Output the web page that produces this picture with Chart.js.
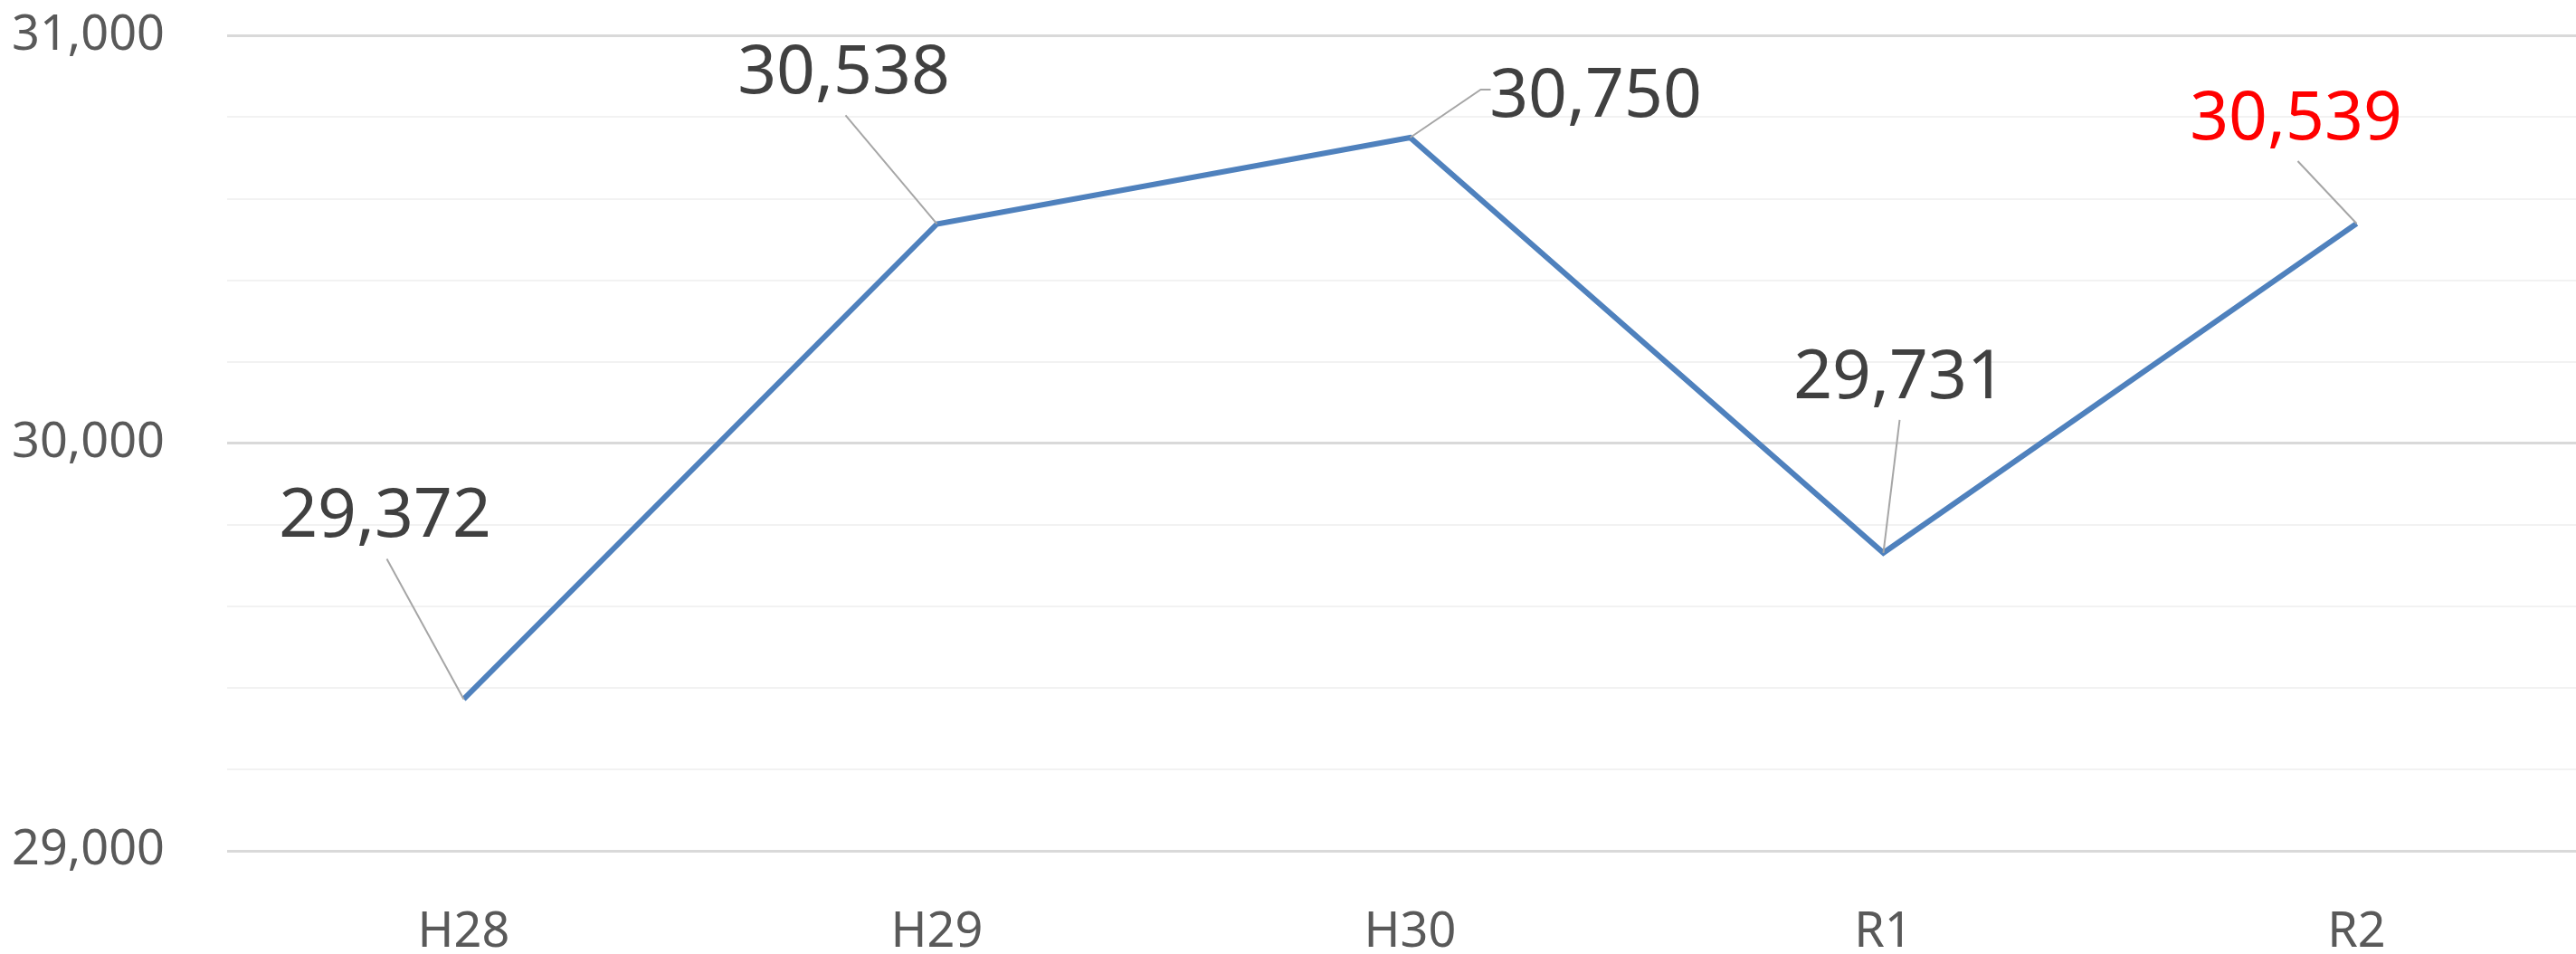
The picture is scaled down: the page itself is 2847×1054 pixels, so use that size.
<!DOCTYPE html>
<html>
<head>
<meta charset="utf-8">
<script src="https://cdn.jsdelivr.net/npm/chart.js@4/dist/chart.umd.min.js"></script>
<style>
html,body{margin:0;padding:0;background:#fff;overflow:hidden;}
#wrap{width:2847px;height:1054px;position:relative;overflow:hidden;}
#c{position:absolute;left:0;top:-62px;}
</style>
</head>
<body>
<div id="wrap"><canvas id="c" width="2866" height="1116"></canvas></div>
<script>
const categories = ['H28', 'H29', 'H30', 'R1', 'R2'];
const values = [29372, 30538, 30750, 29731, 30539];
const yMin = 29000;
const yMax = 31000;
const yStep = 200;
const yLabelStep = 1000;

const FONT = '"Noto Sans", "Open Sans", sans-serif';

const labelPlugin = {
  id: 'leaderLabels',
  afterDatasetsDraw(chart, args, opts) {
    const ctx = chart.ctx;
    const meta = chart.getDatasetMeta(0);
    ctx.save();
    meta.data.forEach((pt, i) => {
      const o = opts.items[i];
      const x = pt.x, y = pt.y;
      ctx.strokeStyle = '#a6a6a6';
      ctx.lineWidth = 2;
      ctx.beginPath();
      ctx.moveTo(x, y);
      o.leader.forEach(p => ctx.lineTo(x + p[0], y + p[1]));
      ctx.stroke();
      const size = opts.size;
      ctx.font = size + 'px ' + FONT;
      ctx.fillStyle = o.color;
      ctx.textAlign = 'center';
      ctx.textBaseline = 'alphabetic';
      const txt = values[i].toLocaleString('en-US');
      ctx.fillText(txt, x + o.dx, y + o.dy + size * 0.357);
    });
    ctx.restore();
  }
};

new Chart(document.getElementById('c'), {
  type: 'line',
  data: {
    labels: categories,
    datasets: [{
      data: values,
      borderColor: '#4f81bd',
      borderWidth: 6,
      pointRadius: 0,
      pointHoverRadius: 0,
      tension: 0,
      fill: false
    }]
  },
  options: {
    responsive: false,
    animation: false,
    events: [],
    layout: { padding: { top: 0, right: 0, bottom: 0, left: 0 } },
    plugins: {
      legend: { display: false },
      tooltip: { enabled: false },
      leaderLabels: {
        size: 75,
        items: [
          { dx: -87, dy: -206, leader: [[-85, -155]], color: '#404040' },
          { dx: -103, dy: -171, leader: [[-101, -120]], color: '#404040' },
          { dx: 205, dy: -50, leader: [[78, -53], [89, -53]], color: '#404040' },
          { dx: 18, dy: -198, leader: [[18, -147]], color: '#404040' },
          { dx: -67, dy: -120, leader: [[-65, -69]], color: '#ff0000' }
        ]
      }
    },
    scales: {
      x: {
        type: 'category',
        offset: true,
        grid: { display: false, drawTicks: false },
        border: { display: false },
        ticks: {
          color: '#595959',
          font: { family: FONT, size: 54 },
          padding: 58,
          maxRotation: 0,
          autoSkip: false
        },
        afterFit(scale) { scale.height = 114; }
      },
      y: {
        min: yMin,
        max: yMax,
        grid: {
          drawTicks: false,
          color: (c) => (c.tick && c.tick.value % yLabelStep === 0) ? '#d9d9d9' : '#f2f2f2',
          lineWidth: (c) => (c.tick && c.tick.value % yLabelStep === 0) ? 3 : 2
        },
        border: { display: false },
        ticks: {
          stepSize: yStep,
          autoSkip: false,
          color: '#595959',
          font: { family: FONT, size: 54 },
          padding: 69,
          callback: (v) => (v % yLabelStep === 0) ? v.toLocaleString('en-US') : ''
        },
        afterFit(scale) { scale.width = 251; }
      }
    }
  },
  plugins: [labelPlugin]
});
</script>
</body>
</html>
